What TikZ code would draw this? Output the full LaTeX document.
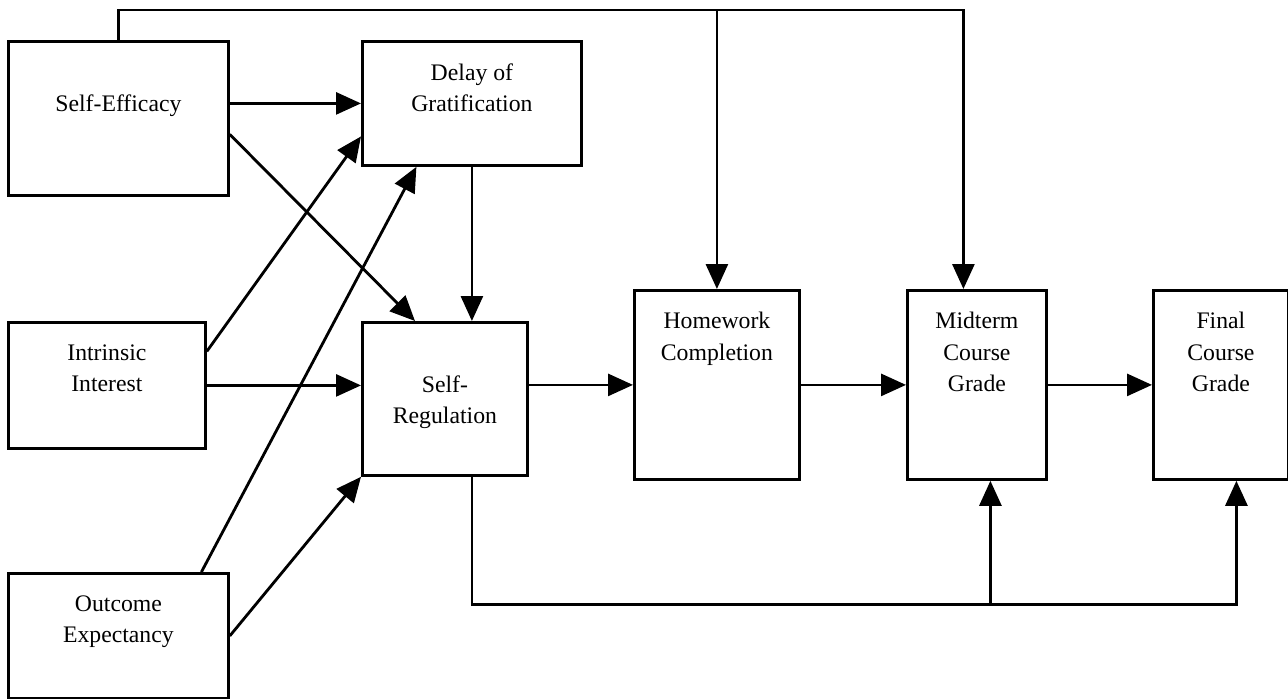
\documentclass[tikz,border=0pt]{standalone}
\usepackage{fontspec}
\setmainfont{Liberation Serif}
\usetikzlibrary{positioning, arrows.meta, calc}

\begin{document}
\begin{tikzpicture}[
  every path/.style = {line width=1.6pt},
  box/.style  = {rectangle, draw, anchor=north west, inner sep=0pt},
  txt/.style  = {anchor=north, align=center, inner sep=0pt, yshift=-0.44cm,
                 font=\fontsize{13.5}{17.8}\selectfont},
  blank/.style = {yshift=-0.62cm},
  arr/.style  = {-{Triangle[length=0.5cm, width=0.44cm]}},
  ]
  \useasboundingbox (0,0) rectangle (25.76,13.96);

  % Predictors
  \node (se) at (0.14,13.16) [box, minimum width=4.40cm, minimum height=3.08cm,
        label={[txt, blank, name=seT]north:Self-Efficacy}] {};
  \node (ii) at (0.14,7.54)  [box, minimum width=3.94cm, minimum height=2.52cm,
        label={[txt, name=iiT]north:Intrinsic\\Interest}] {};
  \node (oe) at (0.14,2.52)  [box, minimum width=4.40cm, minimum height=2.50cm,
        label={[txt, name=oeT]north:Outcome\\Expectancy}] {};
  % Mediators
  \node (dg) at (7.22,13.16) [box, minimum width=4.38cm, minimum height=2.48cm,
        label={[txt, name=dgT]north:Delay of\\Gratification}] {};
  \node (sr) at (7.22,7.54)  [box, minimum width=3.30cm, minimum height=3.06cm,
        label={[txt, blank, name=srT]north:Self-\\Regulation}] {};
  % Outcomes
  \node (hw) at (12.66,8.18) [box, minimum width=3.30cm, minimum height=3.78cm,
        label={[txt, name=hwT]north:Homework\\Completion}] {};
  \node (mt) at (18.12,8.18) [box, minimum width=2.78cm, minimum height=3.78cm,
        label={[txt, name=mtT]north:Midterm\\Course\\Grade}] {};
  \node (fc) at (23.04,8.18) [box, minimum width=2.70cm, minimum height=3.78cm,
        label={[txt, name=fcT]north:Final\\Course\\Grade}] {};

  % Paths into delay of gratification and self-regulation
  \draw[arr] (se.east |- dg.west) -- (dg.west);
  \draw[arr] ([yshift=-0.32cm]se.east) -- ([xshift=1.08cm]sr.north west);
  \draw[arr] ([yshift=0.68cm]ii.east) -- ([yshift=-0.66cm]dg.west);
  \draw[arr] (ii.east) -- (ii.east -| sr.west);
  \draw[arr] ([xshift=1.66cm]oe.north) -- ([xshift=-1.11cm]dg.south);
  \draw[arr] (oe.east) -- (sr.south west);
  \draw[arr] (dg.south) -- (dg.south |- sr.north);

  % Chain to the grades
  \draw[arr] (sr.east |- hw.west) -- (hw.west);
  \draw[arr] (hw.east) -- (mt.west);
  \draw[arr] (mt.east) -- (fc.west);

  % Self-efficacy over the top
  \draw[arr] (se.north) -- ++(0,0.6) coordinate (tp) -| ([xshift=-0.27cm]mt.north);
  \draw[arr] (hw.north |- tp) -- (hw.north);

  % Self-regulation along the bottom
  \draw[arr] (dg.south |- sr.south) -- ++(0,-2.56) coordinate (bt) -| ([xshift=0.31cm]fc.south);
  \draw[arr] ([xshift=0.27cm]mt.south |- bt) -- ([xshift=0.27cm]mt.south);
\end{tikzpicture}
\end{document}
